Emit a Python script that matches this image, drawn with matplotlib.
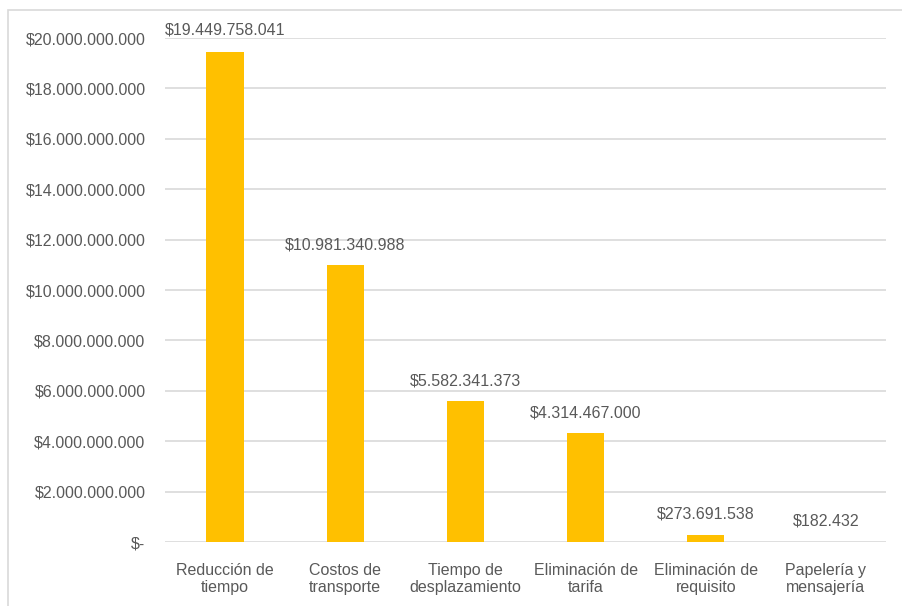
import matplotlib.pyplot as plt
from matplotlib.patches import Rectangle
from matplotlib.ticker import FuncFormatter

categorias = ["Reducción de\ntiempo", "Costos de\ntransporte", "Tiempo de\ndesplazamiento",
              "Eliminación de\ntarifa", "Eliminación de\nrequisito", "Papelería y\nmensajería"]
ahorros = [19449758041, 10981340988, 5582341373, 4314467000, 273691538, 182432]
ticks_y = [0, 2e9, 4e9, 6e9, 8e9, 10e9, 12e9, 14e9, 16e9, 18e9, 20e9]

GRIS = "#595959"
plt.rcParams['font.family'] = ['Liberation Sans Narrow', 'Liberation Sans', 'DejaVu Sans']


def pesos(v, pos=None):
    if v == 0:
        return "$-"
    return "$" + f"{int(round(v)):,}".replace(",", ".")


fig = plt.figure(figsize=(9.02, 6.06), dpi=100)
ax = fig.add_axes([165 / 902, 1 - 542 / 606, 721 / 902, 504 / 606])

x = range(len(categorias))
ax.bar(x, ahorros, width=0.31, color="#FFC000", zorder=3)

for i, v in enumerate(ahorros):
    dy = 10.5 if i == 0 else 9.5
    ax.annotate(pesos(v), (i, v), xytext=(0, dy), textcoords="offset points",
                ha="center", va="bottom", fontsize=11.5, color=GRIS)

ax.set_xlim(-0.5, len(categorias) - 0.5)
ax.set_ylim(0, 20e9)
ax.set_yticks(ticks_y)
ax.yaxis.set_major_formatter(FuncFormatter(pesos))
ax.set_xticks(list(x))
ax.set_xticklabels(categorias)
ax.tick_params(axis="both", length=0, labelsize=11.5, labelcolor=GRIS)
ax.tick_params(axis="y", pad=14)
ax.tick_params(axis="x", pad=15)
ax.grid(axis="y", color="#D9D9D9", linewidth=1.2, zorder=0)
for s in ax.spines.values():
    s.set_visible(False)

# marco del gráfico
fig.patches.append(Rectangle((8 / 902, -0.1), 1.2, 1 - 10 / 606 + 0.1,
                             transform=fig.transFigure, fill=False,
                             edgecolor="#D9D9D9", linewidth=1.2))

fig.savefig("out.png", dpi=100)
